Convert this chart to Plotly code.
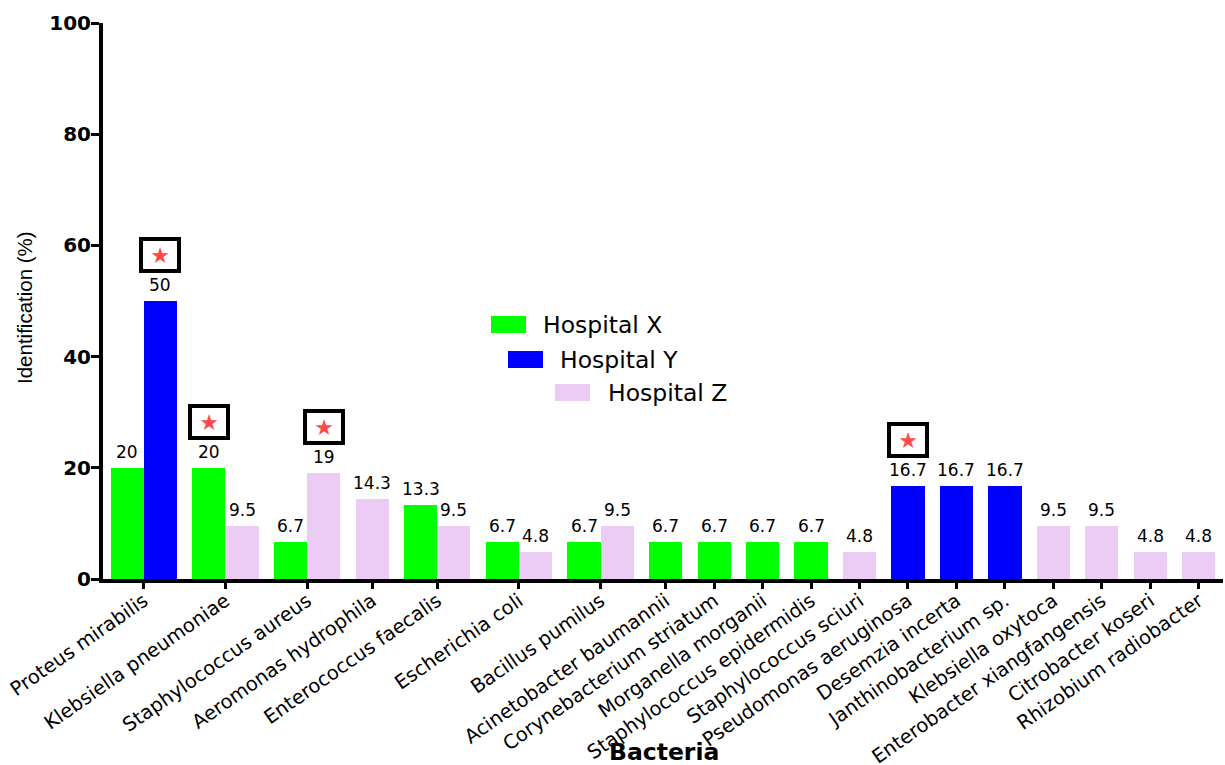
import plotly.graph_objects as go

# ---------------- data ----------------
categories = [
    "Proteus mirabilis", "Klebsiella pneumoniae", "Staphylococcus aureus",
    "Aeromonas hydrophila", "Enterococcus faecalis", "Escherichia coli",
    "Bacillus pumilus", "Acinetobacter baumannii", "Corynebacterium striatum",
    "Morganella morganii", "Staphylococcus epidermidis", "Staphylococcus sciuri",
    "Pseudomonas aeruginosa", "Desemzia incerta", "Janthinobacterium sp.",
    "Klebsiella oxytoca", "Enterobacter xiangfangensis", "Citrobacter koseri",
    "Rhizobium radiobacter",
]
hospital_x = [20, 20, 6.7, None, 13.3, 6.7, 6.7, 6.7, 6.7, 6.7, 6.7,
              None, None, None, None, None, None, None, None]
hospital_y = [50, None, None, None, None, None, None, None, None, None, None,
              None, 16.7, 16.7, 16.7, None, None, None, None]
hospital_z = [None, 9.5, 19, 14.3, 9.5, 4.8, 9.5, None, None, None, None,
              4.8, None, None, None, 9.5, 9.5, 4.8, 4.8]
series_names = ["Hospital X", "Hospital Y", "Hospital Z"]
series_colors = ["#00FF00", "#0000FF", "#ECCBF5"]
highlighted = [("Proteus mirabilis", "Hospital Y"),
               ("Klebsiella pneumoniae", "Hospital X"),
               ("Staphylococcus aureus", "Hospital Z"),
               ("Pseudomonas aeruginosa", "Hospital Y")]
y_ticks = [0, 20, 40, 60, 80, 100]

# ---------------- layout of bars (data units) ----------------
series = [hospital_x, hospital_y, hospital_z]
BAR_W = 1.0
GAP = 0.46
centers = []
bar_x = [[None] * len(categories) for _ in series]
pos = 0.0
for i in range(len(categories)):
    present = [k for k in range(len(series)) if series[k][i] is not None]
    start = pos + GAP / 2
    for j, k in enumerate(present):
        bar_x[k][i] = start + j * BAR_W + BAR_W / 2
    centers.append(start + len(present) * BAR_W / 2)
    pos += len(present) * BAR_W + GAP
x_total = pos

W, H = 1225, 765
ML, MR, MT, MB = 103, 2, 23, 186
PW, PH = W - ML - MR, H - MT - MB


def px_x(px):
    return (px - ML) / PW


def px_y(py):
    return (H - MB - py) / PH


fig = go.Figure()
for k, vals in enumerate(series):
    xs = [bar_x[k][i] for i, v in enumerate(vals) if v is not None]
    ys = [v for v in vals if v is not None]
    fig.add_trace(go.Bar(
        x=xs, y=ys, width=BAR_W, name=series_names[k],
        marker=dict(color=series_colors[k], line=dict(width=0)),
        showlegend=False,
    ))

annotations = []
# value labels
for k, vals in enumerate(series):
    for i, v in enumerate(vals):
        if v is None:
            continue
        annotations.append(dict(
            x=bar_x[k][i], y=v, xref="x", yref="y", text=f"{v:g}",
            showarrow=False, yanchor="bottom", xanchor="center", yshift=4,
            font=dict(family="DejaVu Sans", size=17, color="black"),
        ))
# highlighted (star) markers
for cat, hosp in highlighted:
    i = categories.index(cat)
    k = series_names.index(hosp)
    annotations.append(dict(
        x=bar_x[k][i], y=series[k][i], xref="x", yref="y", text="★",
        showarrow=False, yanchor="middle", xanchor="center", yshift=46,
        width=34, height=28, borderpad=0, borderwidth=4, bordercolor="black",
        bgcolor="white", font=dict(family="DejaVu Sans", size=22, color="#FF4A4A"),
    ))

# staggered legend
legend_boxes = [(491, 316, 526, 333), (508, 351, 543, 368), (555, 384, 590, 401)]
legend_text_x = [541, 558, 606]
shapes = []
for k, (x0, y0, x1, y1) in enumerate(legend_boxes):
    shapes.append(dict(type="rect", xref="paper", yref="paper",
                       x0=px_x(x0), x1=px_x(x1), y0=px_y(y1), y1=px_y(y0),
                       fillcolor=series_colors[k], line=dict(width=0)))
    annotations.append(dict(
        x=px_x(legend_text_x[k]), y=px_y((y0 + y1) / 2), xref="paper", yref="paper",
        text=series_names[k], showarrow=False, xanchor="left", yanchor="middle",
        font=dict(family="DejaVu Sans", size=23.5, color="black"),
    ))

# axis titles
annotations.append(dict(
    x=px_x(664), y=px_y(768), xref="paper", yref="paper", text="<b>Bacteria</b>",
    showarrow=False, xanchor="center", yanchor="bottom",
    font=dict(family="DejaVu Sans", size=23.5, color="black"),
))
annotations.append(dict(
    x=px_x(25), y=px_y(308), xref="paper", yref="paper", text="Identification (%)",
    showarrow=False, xanchor="center", yanchor="middle", textangle=-90,
    font=dict(family="Liberation Sans", size=20.5, color="black"),
))

fig.update_layout(
    width=W, height=H,
    margin=dict(l=ML, r=MR, t=MT, b=MB, autoexpand=False),
    plot_bgcolor="white", paper_bgcolor="white",
    barmode="overlay", bargap=0,
    annotations=annotations, shapes=shapes,
    xaxis=dict(
        range=[0, x_total], tickmode="array", tickvals=centers, ticktext=categories,
        tickangle=-35, ticks="outside", ticklen=6, tickwidth=3, tickcolor="black",
        ticklabelstandoff=-7,
        showline=True, linewidth=4, linecolor="black", showgrid=False, zeroline=False,
        tickfont=dict(family="DejaVu Sans", size=19.5, color="black"),
        automargin=False,
    ),
    yaxis=dict(
        range=[0, 100], tickmode="array", tickvals=y_ticks,
        ticks="outside", ticklen=8, tickwidth=3, tickcolor="black",
        ticklabelstandoff=-4,
        showline=True, linewidth=4, linecolor="black", showgrid=False, zeroline=False,
        tickfont=dict(family="DejaVu Sans", size=20, color="black", weight="bold"),
        automargin=False,
    ),
)

fig.write_html("out.html", config={"displayModeBar": False},
               post_script="document.body.style.margin='0px';")
